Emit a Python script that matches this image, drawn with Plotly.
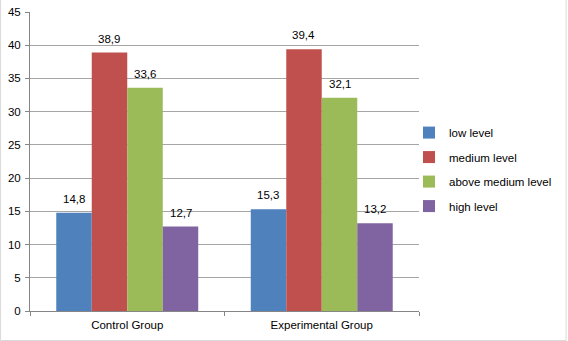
import plotly.graph_objects as go

categories = ["Control Group", "Experimental Group"]
series_names = ["low level", "medium level", "above medium level", "high level"]
low_level = [14.8, 15.3]
medium_level = [38.9, 39.4]
above_medium_level = [33.6, 32.1]
high_level = [12.7, 13.2]
colors = ["#4F81BD", "#C0504D", "#9BBB59", "#8064A2"]
y_ticks = [0, 5, 10, 15, 20, 25, 30, 35, 40, 45]

values = [low_level, medium_level, above_medium_level, high_level]
font = "Liberation Sans, Arial, sans-serif"
FS = 11.5

PLOT_W = 390
BARGAP = 0.27
bar_px = PLOT_W / len(categories) * (1 - BARGAP) / len(series_names)

fig = go.Figure()
for i, (name, vals, col) in enumerate(zip(series_names, values, colors)):
    fig.add_trace(go.Bar(
        x=categories, y=vals, name=name, legendgroup=name,
        marker=dict(color=col, line=dict(width=0)),
    ))
    for c, v in zip(categories, vals):
        fig.add_annotation(x=c, y=v, text=f"{v:.1f}".replace(".", ","),
                           showarrow=False, yanchor="bottom",
                           xshift=(i - 1.5) * bar_px, yshift=6,
                           font=dict(size=FS, family=font, color="#000000"))

fig.update_layout(
    width=568, height=341,
    margin=dict(l=30, r=148, t=12, b=30),
    paper_bgcolor="white", plot_bgcolor="white",
    barmode="group", bargap=BARGAP, bargroupgap=0,
    separators=", ",
    font=dict(family=font, size=FS, color="#000000"),
    showlegend=True,
    legend=dict(x=(409 - 30) / PLOT_W, xanchor="left", y=0.473, yanchor="middle",
                font=dict(size=FS, family=font), tracegroupgap=5.5,
                traceorder="grouped", itemwidth=30, bgcolor="rgba(0,0,0,0)"),
    xaxis=dict(showline=True, linecolor="#868686", linewidth=1, automargin=False,
               ticks="outside", tickson="boundaries", ticklen=4, tickcolor="#868686",
               ticklabelstandoff=3,
               tickfont=dict(size=FS, family=font)),
    yaxis=dict(range=[0, 45], tickvals=y_ticks, showgrid=True, gridcolor="#A6A6A6",
               showline=True, linecolor="#868686", ticks="outside", ticklen=4,
               tickcolor="#868686", zeroline=False, automargin=False,
               ticklabelstandoff=2,
               tickfont=dict(size=FS, family=font)),
)
fig.add_shape(type="rect", xref="paper", yref="paper",
              x0=-29.5 / PLOT_W, y0=-29.5 / 299, x1=(567.5 - 30) / PLOT_W, y1=(340.5 - 12) / 299,
              line=dict(color="#D9D9D9", width=1), layer="below")
fig.write_html("out.html")
